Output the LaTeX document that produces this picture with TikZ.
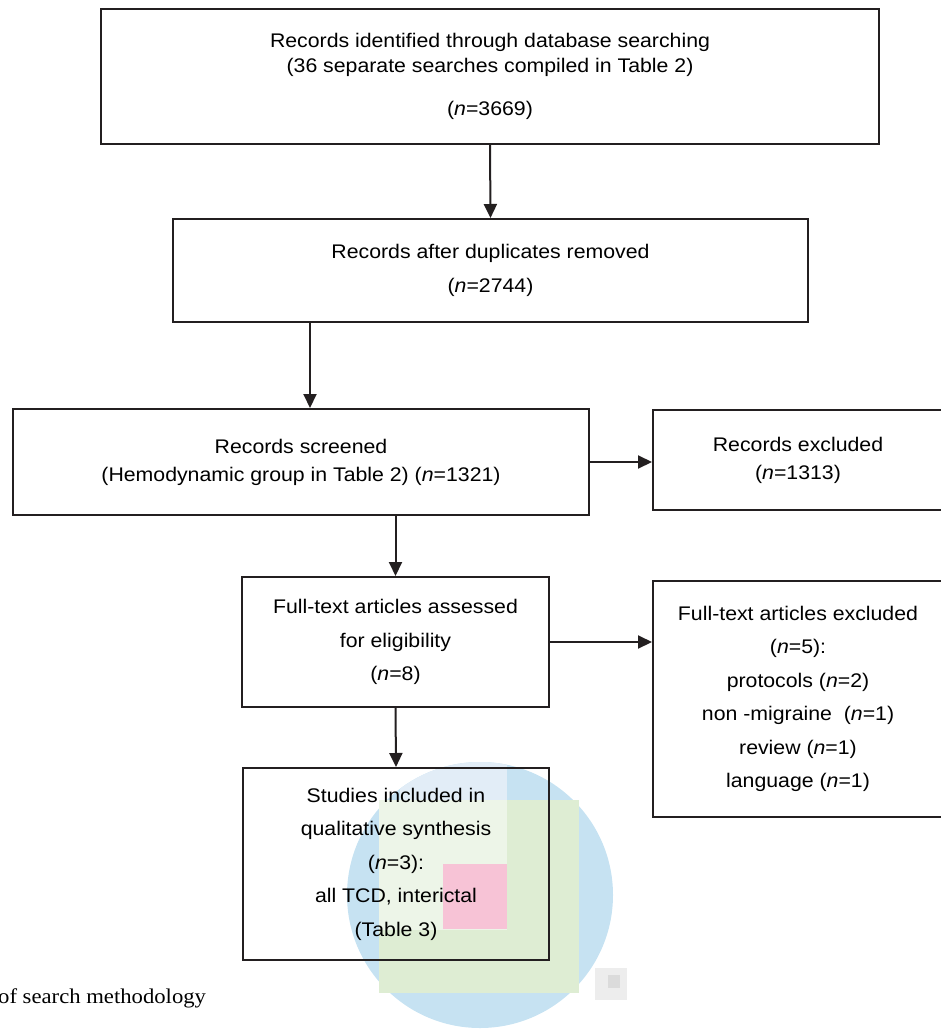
\documentclass[tikz,border=0pt]{standalone}
\usepackage{fontspec}
\setmainfont{Liberation Sans}[FakeStretch=1.08]
\newfontfamily\capfont{Liberation Serif}[FakeStretch=1.08]
\usetikzlibrary{arrows.meta}
\usepackage{xcolor}

\definecolor{linegray}{HTML}{231F20}
\definecolor{blobblue}{HTML}{C6E2F2}
\definecolor{blobpaleblue}{HTML}{E2EDF7}
\definecolor{blobgreen}{HTML}{DEEDD3}
\definecolor{blobpale}{HTML}{EDF5E8}
\definecolor{blobpink}{HTML}{F7C3D6}

\tikzset{
    box/.style={draw=linegray, line width=2pt, inner sep=0pt, align=center,
        font=\fontsize{19.7}{33.5}\selectfont},
    arrow/.style={-{Triangle[length=14pt,width=13pt]}, draw=linegray, line width=2pt}
}

\begin{document}
\begin{tikzpicture}[x=1pt, y=-1pt]
    \useasboundingbox (0,0) rectangle (940,1030);

    % Watermark blob behind the last box
    \fill[blobblue] (480,895) circle [radius=133];
    \begin{scope}
        \clip (480,895) circle [radius=133];
        \fill[blobpaleblue] (400,760) rectangle (507,800);
    \end{scope}
    \fill[blobgreen] (379,800) rectangle (579,993);
    \fill[blobpale] (379,800) rectangle (507,930);
    \fill[blobpink] (443,864) rectangle (507,929);
    \fill[black!7] (595,968) rectangle (627,1000);
    \fill[black!14] (608,975) rectangle (620,988);

    % Main column of boxes
    \node[box, minimum width=778pt, minimum height=135pt,
        font=\fontsize{19.7}{25}\selectfont] (ident) at (490,76.5)
        {Records identified through database searching\\(36 separate searches compiled in Table 2)\\[18pt](\textit{n}=3669)};
    \node[box, minimum width=635pt, minimum height=103pt] (dedup) at (490.5,270.5)
        {Records after duplicates removed\\(\textit{n}=2744)};
    \node[box, minimum width=576pt, minimum height=106pt,
        font=\fontsize{19.7}{28}\selectfont] (screen) at (301,462)
        {Records screened\\(Hemodynamic group in Table 2) (\textit{n}=1321)};
    \node[box, minimum width=307pt, minimum height=130pt] (full) at (395.5,642)
        {Full-text articles assessed\\for eligibility\\(\textit{n}=8)};
    \node[box, minimum width=306pt, minimum height=192pt] (incl) at (396,864)
        {Studies included in\\qualitative synthesis\\(\textit{n}=3):\\all TCD, interictal\\(Table 3)};

    % Exclusion boxes (cut by the right edge)
    \node[box, minimum width=290pt, minimum height=100pt,
        font=\fontsize{19.7}{28}\selectfont] (recex) at (798,460)
        {Records excluded\\(\textit{n}=1313)};
    \node[box, minimum width=290pt, minimum height=236pt] (fullex) at (798,699)
        {Full-text articles excluded\\(\textit{n}=5):\\protocols (\textit{n}=2)\\non -migraine\ \ (\textit{n}=1)\\review (\textit{n}=1)\\language (\textit{n}=1)};

    % Caption fragment
    \node[font=\capfont\fontsize{21}{25}\selectfont, anchor=base west, inner sep=0pt]
        (caption) at (-2,1003) {of search methodology};

    % Arrows
    \coordinate (c3) at ([xshift=9pt]screen.north);
    \draw[arrow] (ident.south) -- (dedup.north);
    \draw[arrow] (dedup.south -| c3) -- (c3);
    \draw[arrow] (screen.east) -- (screen.east -| recex.west);
    \draw[arrow] (screen.south -| full.north) -- (full.north);
    \draw[arrow] (full.east) -- (full.east -| fullex.west);
    \draw[arrow] (full.south) -- (incl.north);
\end{tikzpicture}
\end{document}
